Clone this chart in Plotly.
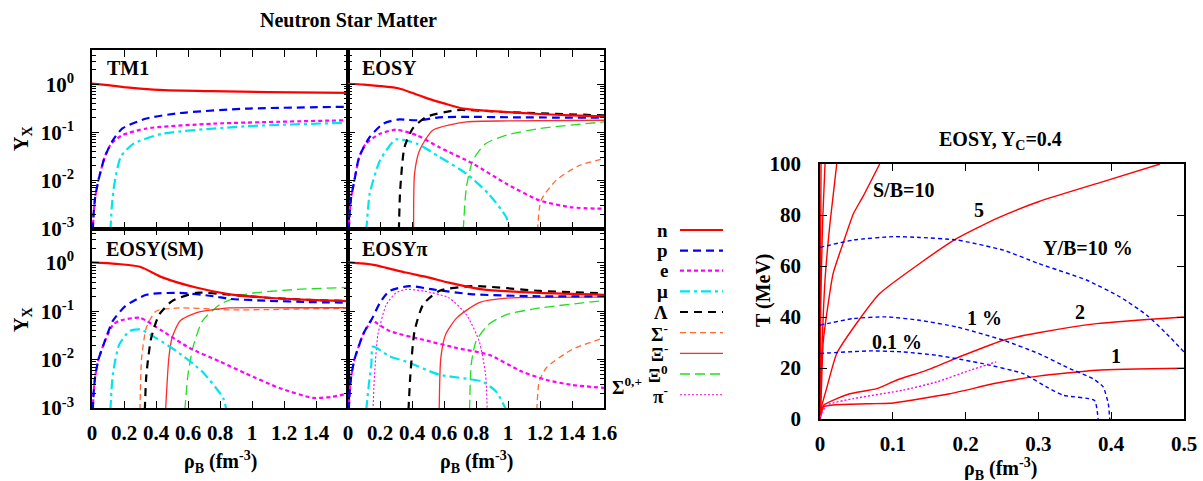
import plotly.graph_objects as go

# ------------------------------------------------------------------ data
# TM1 panel
tm1_n_x = [0, 0.1, 0.2, 0.3, 0.45, 0.75, 1.1, 1.6]
tm1_n_y = [1.03, 0.955, 0.87, 0.81, 0.75, 0.715, 0.685, 0.66]
tm1_p_x = [0.005, 0.01, 0.02, 0.04, 0.08, 0.13, 0.19, 0.34, 0.55, 0.96, 1.6]
tm1_p_y = [0.0009, 0.002, 0.0045, 0.01, 0.031, 0.068, 0.12, 0.193, 0.251, 0.309, 0.339]
tm1_e_x = [0.005, 0.01, 0.02, 0.04, 0.08, 0.12, 0.19, 0.34, 0.76, 1.6]
tm1_e_y = [0.0009, 0.002, 0.0045, 0.01, 0.031, 0.058, 0.087, 0.12, 0.151, 0.178]
tm1_mu_x = [0.115, 0.125, 0.14, 0.18, 0.26, 0.44, 0.96, 1.6]
tm1_mu_y = [0.0009, 0.0032, 0.0085, 0.031, 0.058, 0.093, 0.133, 0.158]

# EOSY panel
eosy_n_x = [0, 0.1, 0.2, 0.32, 0.4, 0.5, 0.6, 0.72, 0.85, 1.0, 1.2, 1.4, 1.6]
eosy_n_y = [1.02, 0.977, 0.912, 0.813, 0.661, 0.501, 0.398, 0.309, 0.282, 0.263, 0.24, 0.224, 0.214]
eosy_p_x = [0.005, 0.01, 0.02, 0.04, 0.07, 0.135, 0.22, 0.32, 0.38, 0.45, 0.57, 0.78, 1.0, 1.6]
eosy_p_y = [0.0009, 0.002, 0.0045, 0.01, 0.031, 0.079, 0.151, 0.186, 0.18, 0.178, 0.204, 0.209, 0.205, 0.2]
eosy_e_x = [0.005, 0.01, 0.02, 0.04, 0.07, 0.11, 0.2, 0.3, 0.43, 0.57, 0.78, 0.99, 1.2, 1.4, 1.6]
eosy_e_y = [0.0009, 0.002, 0.0045, 0.01, 0.03, 0.057, 0.093, 0.113, 0.087, 0.049, 0.0224, 0.0085, 0.0038, 0.00275, 0.00257]
eosy_mu_x = [0.114, 0.125, 0.135, 0.2, 0.3, 0.43, 0.57, 0.74, 0.88, 0.99, 1.01]
eosy_mu_y = [0.0009, 0.0025, 0.0052, 0.026, 0.071, 0.058, 0.031, 0.0138, 0.0052, 0.0017, 0.0009]
eosy_lam_x = [0.318, 0.326, 0.353, 0.405, 0.49, 0.68, 0.99, 1.6]
eosy_lam_y = [0.0009, 0.0062, 0.049, 0.12, 0.209, 0.288, 0.263, 0.224]
eosy_xim_x = [0.41, 0.416, 0.447, 0.53, 0.74, 1.0, 1.6]
eosy_xim_y = [0.0009, 0.0138, 0.042, 0.11, 0.164, 0.172, 0.178]
eosy_xi0_x = [0.72, 0.74, 0.78, 0.86, 0.99, 1.2, 1.6]
eosy_xi0_y = [0.0009, 0.0072, 0.026, 0.058, 0.087, 0.12, 0.164]
eosy_sigm_x = [1.185, 1.206, 1.3, 1.445, 1.6]
eosy_sigm_y = [0.0009, 0.0038, 0.01, 0.0204, 0.0282]

# EOSY(SM) panel
sm_n_x = [0, 0.15, 0.3, 0.44, 0.65, 0.86, 1.1, 1.35, 1.6]
sm_n_y = [1.02, 0.955, 0.832, 0.501, 0.309, 0.224, 0.19, 0.172, 0.162]
sm_p_x = [0.005, 0.01, 0.02, 0.04, 0.08, 0.13, 0.21, 0.34, 0.55, 0.76, 0.86, 1.1, 1.35, 1.6]
sm_p_y = [0.0009, 0.002, 0.0045, 0.01, 0.024, 0.063, 0.129, 0.219, 0.24, 0.204, 0.18, 0.165, 0.155, 0.15]
sm_e_x = [0.005, 0.01, 0.02, 0.04, 0.08, 0.13, 0.17, 0.3, 0.44, 0.61, 0.8, 0.96, 1.17, 1.38, 1.5, 1.6]
sm_e_y = [0.0009, 0.002, 0.0045, 0.01, 0.024, 0.052, 0.063, 0.073, 0.039, 0.0174, 0.0091, 0.0052, 0.0026, 0.00162, 0.0017, 0.002]
sm_mu_x = [0.115, 0.13, 0.17, 0.235, 0.3, 0.4, 0.53, 0.69, 0.82, 0.84]
sm_mu_y = [0.0009, 0.0049, 0.0204, 0.039, 0.042, 0.028, 0.0148, 0.0056, 0.0016, 0.0009]
sm_lam_x = [0.33, 0.34, 0.37, 0.42, 0.5, 0.65, 0.86, 1.1, 1.35, 1.6]
sm_lam_y = [0.0009, 0.0049, 0.028, 0.085, 0.162, 0.24, 0.22, 0.19, 0.172, 0.162]
sm_sigm_x = [0.3, 0.31, 0.34, 0.4, 0.55, 0.86, 1.1, 1.35, 1.6]
sm_sigm_y = [0.0009, 0.0107, 0.046, 0.1, 0.117, 0.107, 0.108, 0.112, 0.115]
sm_xim_x = [0.46, 0.48, 0.5, 0.55, 0.65, 0.86, 1.2, 1.6]
sm_xim_y = [0.0009, 0.0107, 0.028, 0.063, 0.093, 0.117, 0.118, 0.118]
sm_xi0_x = [0.58, 0.6, 0.63, 0.69, 0.8, 0.96, 1.28, 1.6]
sm_xi0_y = [0.0009, 0.0049, 0.0174, 0.063, 0.138, 0.224, 0.282, 0.31]

# EOSYpi panel
pi_n_x = [0, 0.16, 0.36, 0.5, 0.63, 0.84, 1.2, 1.6]
pi_n_y = [1.02, 0.912, 0.631, 0.501, 0.389, 0.282, 0.24, 0.219]
pi_p_x = [0.005, 0.01, 0.02, 0.04, 0.094, 0.125, 0.15, 0.2, 0.26, 0.385, 0.53, 0.78, 1.2, 1.6]
pi_p_y = [0.0009, 0.002, 0.0045, 0.01, 0.033, 0.052, 0.07, 0.15, 0.263, 0.331, 0.282, 0.224, 0.204, 0.204]
pi_e_x = [0.005, 0.01, 0.02, 0.04, 0.094, 0.125, 0.15, 0.17, 0.26, 0.47, 0.68, 0.88, 1.09, 1.24, 1.4, 1.6]
pi_e_y = [0.0009, 0.002, 0.0045, 0.01, 0.033, 0.05, 0.066, 0.06, 0.039, 0.0257, 0.0174, 0.0126, 0.0056, 0.0038, 0.003, 0.0026]
pi_mu_x = [0.114, 0.13, 0.146, 0.156, 0.26, 0.364, 0.57, 0.84, 0.925, 0.99]
pi_mu_y = [0.0009, 0.003, 0.0079, 0.0186, 0.0117, 0.0091, 0.0049, 0.0035, 0.0022, 0.0009]
pi_pim_x = [0.156, 0.166, 0.187, 0.24, 0.3, 0.364, 0.47, 0.63, 0.74, 0.82, 0.86, 0.87]
pi_pim_y = [0.0009, 0.0049, 0.033, 0.138, 0.24, 0.282, 0.263, 0.19, 0.085, 0.024, 0.0049, 0.0009]
pi_lam_x = [0.378, 0.39, 0.416, 0.47, 0.57, 0.78, 1.2, 1.6]
pi_lam_y = [0.0009, 0.0049, 0.039, 0.138, 0.263, 0.331, 0.263, 0.234]
pi_xim_x = [0.57, 0.58, 0.61, 0.68, 0.82, 0.99, 1.6]
pi_xim_y = [0.0009, 0.0107, 0.033, 0.073, 0.151, 0.186, 0.195]
pi_xi0_x = [0.76, 0.77, 0.8, 0.88, 0.99, 1.2, 1.6]
pi_xi0_y = [0.0009, 0.0079, 0.024, 0.054, 0.085, 0.117, 0.166]
pi_sigm_x = [1.18, 1.195, 1.24, 1.4, 1.6]
pi_sigm_y = [0.0009, 0.0035, 0.0068, 0.0162, 0.0282]

# Right chart: isentropes (S/B) and hyperon-fraction contours (Y/B)
sb1_x = [0, 0.0046, 0.023, 0.069, 0.096, 0.178, 0.243, 0.3, 0.38, 0.5]
sb1_y = [0, 4.7, 5.6, 6.0, 6.15, 9.9, 14.1, 16.8, 19.1, 19.9]
sb2_x = [0, 0.005, 0.023, 0.041, 0.078, 0.105, 0.146, 0.197, 0.252, 0.3, 0.38, 0.5]
sb2_y = [0, 5.4, 8.0, 9.9, 11.9, 15.2, 19.1, 25.0, 30.9, 33.8, 37.4, 40.0]
sb5_x = [0, 0.002, 0.009, 0.023, 0.055, 0.082, 0.137, 0.188, 0.243, 0.3, 0.389, 0.467]
sb5_y = [0, 4.7, 11.9, 25.7, 39.4, 49.2, 61.0, 70.8, 78.7, 85.2, 93.1, 100]
sb10_x = [0, 0.0014, 0.0046, 0.018, 0.030, 0.046, 0.059, 0.082]
sb10_y = [0, 7.3, 30.9, 57.0, 67.5, 80.6, 87.2, 100]
sb20_x = [0, 0.0023, 0.0069, 0.0137, 0.023]
sb20_y = [0, 24.3, 54.5, 76.7, 100]
sb50_x = [0, 0.0009, 0.0037, 0.0069]
sb50_y = [0, 44.0, 78.0, 100]
sb100_x = [0, 0.0006, 0.0014]
sb100_y = [0, 50.0, 100]
yb10_x = [0, 0.046, 0.1, 0.137, 0.188, 0.252, 0.3, 0.366, 0.412, 0.449, 0.476, 0.5]
yb10_y = [67.3, 70.2, 71.5, 71.2, 70.2, 66.2, 61.0, 54.5, 47.9, 40.7, 33.5, 26.3]
yb1_x = [0, 0.046, 0.091, 0.137, 0.188, 0.252, 0.3, 0.343, 0.375, 0.389, 0.396, 0.398]
yb1_y = [36.8, 39.4, 40.05, 38.7, 36.1, 30.9, 25.7, 19.8, 15.8, 12.6, 6.0, 0]
yb01_x = [0, 0.069, 0.114, 0.16, 0.224, 0.279, 0.311, 0.334, 0.377, 0.382]
yb01_y = [25.7, 26.7, 26.3, 25.0, 21.7, 17.8, 12.6, 9.3, 7.3, 0]
mag_x = [0, 0.009, 0.046, 0.114, 0.16, 0.206, 0.242]
mag_y = [0.8, 5.4, 8.0, 11.3, 14.5, 19.1, 22.4]

# legend entries (label, style key)
legend_labels = ["n", "p", "e", "μ", "Λ", "Σ<sup>-</sup>", "Ξ<sup>-</sup>", "Ξ<sup>0</sup>", "π<sup>-</sup>"]
legend_keys = ["n", "p", "e", "mu", "lam", "sigm", "xim", "xi0", "pim"]

# tick labels
x_left_tickvals = [0, 0.2, 0.4, 0.6, 0.8, 1.0, 1.2, 1.4, 1.6]
x_left_ticktext = ["0", "0.2", "0.4", "0.6", "0.8", "1", "1.2", "1.4", ""]
x_right_ticktext = ["0", "0.2", "0.4", "0.6", "0.8", "1", "1.2", "1.4", "1.6"]
y_log_tickvals = [0.001, 0.01, 0.1, 1]
y_log_ticktext = ["10<sup>-3</sup>", "10<sup>-2</sup>", "10<sup>-1</sup>", "10<sup>0</sup>"]

# ------------------------------------------------------------------ styles
STY = {
    "n": dict(color="#ff0000", width=2.2, dash="solid"),
    "p": dict(color="#0000ff", width=2.2, dash="8px,5px"),
    "e": dict(color="#ff00ff", width=2.2, dash="4px,3px"),
    "mu": dict(color="#00e5ee", width=2.2, dash="10px,4px,3px,4px"),
    "lam": dict(color="#000000", width=2.2, dash="8px,6px"),
    "sigm": dict(color="#ff6a30", width=1.3, dash="6px,4px"),
    "xim": dict(color="#ff2a2a", width=1.3, dash="solid"),
    "xi0": dict(color="#22dd22", width=1.3, dash="10px,5px"),
    "pim": dict(color="#ff00ff", width=1.1, dash="2px,2px"),
}

FONT = "Liberation Serif"
W, H = 1203, 481


def P(px, py):
    return px / W, 1 - py / H


fig = go.Figure()


def add(xs, ys, key, xa, ya):
    s = STY[key]
    fig.add_trace(go.Scatter(x=xs, y=ys, mode="lines", xaxis=xa, yaxis=ya,
                             line=dict(color=s["color"], width=s["width"], dash=s["dash"],
                                       shape="spline", smoothing=0.6),
                             showlegend=False, hoverinfo="skip"))


# panel 1: TM1
add(tm1_mu_x, tm1_mu_y, "mu", "x", "y")
add(tm1_e_x, tm1_e_y, "e", "x", "y")
add(tm1_p_x, tm1_p_y, "p", "x", "y")
add(tm1_n_x, tm1_n_y, "n", "x", "y")
# panel 2: EOSY
add(eosy_sigm_x, eosy_sigm_y, "sigm", "x2", "y2")
add(eosy_xi0_x, eosy_xi0_y, "xi0", "x2", "y2")
add(eosy_xim_x, eosy_xim_y, "xim", "x2", "y2")
add(eosy_mu_x, eosy_mu_y, "mu", "x2", "y2")
add(eosy_e_x, eosy_e_y, "e", "x2", "y2")
add(eosy_p_x, eosy_p_y, "p", "x2", "y2")
add(eosy_lam_x, eosy_lam_y, "lam", "x2", "y2")
add(eosy_n_x, eosy_n_y, "n", "x2", "y2")
# panel 3: EOSY(SM)
add(sm_xi0_x, sm_xi0_y, "xi0", "x3", "y3")
add(sm_sigm_x, sm_sigm_y, "sigm", "x3", "y3")
add(sm_xim_x, sm_xim_y, "xim", "x3", "y3")
add(sm_mu_x, sm_mu_y, "mu", "x3", "y3")
add(sm_e_x, sm_e_y, "e", "x3", "y3")
add(sm_p_x, sm_p_y, "p", "x3", "y3")
add(sm_lam_x, sm_lam_y, "lam", "x3", "y3")
add(sm_n_x, sm_n_y, "n", "x3", "y3")
# panel 4: EOSYpi
add(pi_sigm_x, pi_sigm_y, "sigm", "x4", "y4")
add(pi_xi0_x, pi_xi0_y, "xi0", "x4", "y4")
add(pi_xim_x, pi_xim_y, "xim", "x4", "y4")
add(pi_pim_x, pi_pim_y, "pim", "x4", "y4")
add(pi_mu_x, pi_mu_y, "mu", "x4", "y4")
add(pi_e_x, pi_e_y, "e", "x4", "y4")
add(pi_p_x, pi_p_y, "p", "x4", "y4")
add(pi_lam_x, pi_lam_y, "lam", "x4", "y4")
add(pi_n_x, pi_n_y, "n", "x4", "y4")


# right chart
def addr(xs, ys, color, dash, width=1.4, smooth=0.5):
    fig.add_trace(go.Scatter(x=xs, y=ys, mode="lines", xaxis="x5", yaxis="y5",
                             line=dict(color=color, width=width, dash=dash, shape="spline", smoothing=smooth),
                             showlegend=False, hoverinfo="skip"))


for xs, ys in [(sb1_x, sb1_y), (sb2_x, sb2_y), (sb5_x, sb5_y), (sb10_x, sb10_y),
               (sb20_x, sb20_y), (sb50_x, sb50_y), (sb100_x, sb100_y)]:
    addr(xs, ys, "#ff0000", "solid")
for xs, ys in [(yb10_x, yb10_y), (yb1_x, yb1_y), (yb01_x, yb01_y)]:
    addr(xs, ys, "#0000ff", "4px,3px")
addr(mag_x, mag_y, "#ff00ff", "2px,2px")

# ------------------------------------------------------------------ axes
tickfont = dict(family=FONT, size=21, color="black", weight="bold")
minor_log = [k * 10.0 ** d for d in range(-3, 1) for k in range(2, 10)]

base = dict(showline=True, linecolor="black", linewidth=1.5, mirror="allticks",
            ticks="inside", ticklen=7, tickwidth=1.2, tickcolor="black",
            showgrid=False, zeroline=False, tickfont=tickfont, automargin=False)

xA = [92 / W, 348 / W]
xB = [348 / W, 604 / W]
yT = [1 - 228.5 / H, 1 - 50 / H]
yBt = [1 - 408 / H, 1 - 228.5 / H]

def xax(domain, anchor, text, show):
    return dict(base, domain=domain, anchor=anchor, range=[0, 1.6],
                tickmode="array", tickvals=x_left_tickvals, ticktext=text,
                showticklabels=show, ticklabelstandoff=5)

def yax(domain, anchor, show):
    return dict(base, domain=domain, anchor=anchor, type="log", range=[-3, 0.71],
                tickmode="array", tickvals=y_log_tickvals, ticktext=y_log_ticktext,
                showticklabels=show, ticklabelstandoff=12,
                minor=dict(tickmode="array", tickvals=minor_log, ticks="inside",
                           ticklen=4, tickwidth=1, tickcolor="black", showgrid=False))

fig.update_layout(
    xaxis=xax(xA, "y", x_left_ticktext, False),
    yaxis=yax(yT, "x", True),
    xaxis2=xax(xB, "y2", x_right_ticktext, False),
    yaxis2=yax(yT, "x2", False),
    xaxis3=xax(xA, "y3", x_left_ticktext, True),
    yaxis3=yax(yBt, "x3", True),
    xaxis4=xax(xB, "y4", x_right_ticktext, True),
    yaxis4=yax(yBt, "x4", False),
    xaxis5=dict(base, domain=[820 / W, 1184 / W], anchor="y5", range=[0, 0.5],
                tickmode="array", tickvals=[0, 0.1, 0.2, 0.3, 0.4, 0.5],
                ticktext=["0", "0.1", "0.2", "0.3", "0.4", "0.5"], ticklabelstandoff=5),
    yaxis5=dict(base, domain=[1 - 419 / H, 1 - 164 / H], anchor="x5", range=[0, 100],
                tickmode="array", tickvals=[0, 20, 40, 60, 80, 100],
                ticktext=["0", "20", "40", "60", "80", "100"], ticklabelstandoff=13),
)

# ------------------------------------------------------------------ text
ann = []

def txt(px, py, s, size=20, xanchor="center", angle=0):
    x, y = P(px, py)
    ann.append(dict(x=x, y=y, xref="paper", yref="paper", text=s, showarrow=False,
                    xanchor=xanchor, yanchor="middle", textangle=angle,
                    font=dict(family=FONT, size=size, color="black", weight="bold")))

def dtxt(xd, yd, s, size=20):
    ann.append(dict(x=xd, y=yd, xref="x5", yref="y5", text=s, showarrow=False,
                    xanchor="center", yanchor="middle",
                    font=dict(family=FONT, size=size, color="black", weight="bold")))

txt(348, 20, "Neutron Star Matter")
txt(1000, 141, "EOSY, Y<sub>C</sub>=0.4")
txt(105, 68, "TM1", xanchor="left")
txt(360, 68, "EOSY", xanchor="left")
txt(104, 249, "EOSY(SM)", xanchor="left")
txt(360, 249, "EOSYπ", xanchor="left")
txt(22, 139, "Y<sub>X</sub>", angle=-90)
txt(22, 320, "Y<sub>X</sub>", angle=-90)
txt(220, 462, "ρ<sub>B</sub> (fm<sup>-3</sup>)")
txt(476, 462, "ρ<sub>B</sub> (fm<sup>-3</sup>)")
txt(1000, 469, "ρ<sub>B</sub> (fm<sup>-3</sup>)")
txt(763, 290, "T (MeV)", angle=-90)

dtxt(0.115, 89.8, "S/B=10")
dtxt(0.218, 81.9, "5")
dtxt(0.368, 66.9, "Y/B=10 %")
dtxt(0.226, 39.8, "1 %")
dtxt(0.357, 41.8, "2")
dtxt(0.106, 30.2, "0.1 %")
dtxt(0.407, 24.6, "1")

# legend
shapes = []
row_y = [230, 250.7, 270.7, 291.3, 312, 332.7, 353.3, 374, 394.7]
for lab, key, ry in zip(legend_labels, legend_keys, row_y):
    txt(670, ry, lab, size=19, xanchor="right")
    s = STY[key]
    x0, y0 = P(680, ry)
    x1, _ = P(723, ry)
    shapes.append(dict(type="line", xref="paper", yref="paper", x0=x0, x1=x1, y0=y0, y1=y0,
                       line=dict(color=s["color"], width=s["width"], dash=s["dash"])))
txt(627, 386, "Σ<sup>0,+</sup>", size=19)

fig.update_layout(width=W, height=H, margin=dict(l=0, r=0, t=0, b=0),
                  paper_bgcolor="white", plot_bgcolor="white",
                  annotations=ann, shapes=shapes, showlegend=False)

fig.write_html("out.html", config={"displayModeBar": False},
               post_script="document.body.style.margin='0px';document.body.style.overflow='hidden';")
